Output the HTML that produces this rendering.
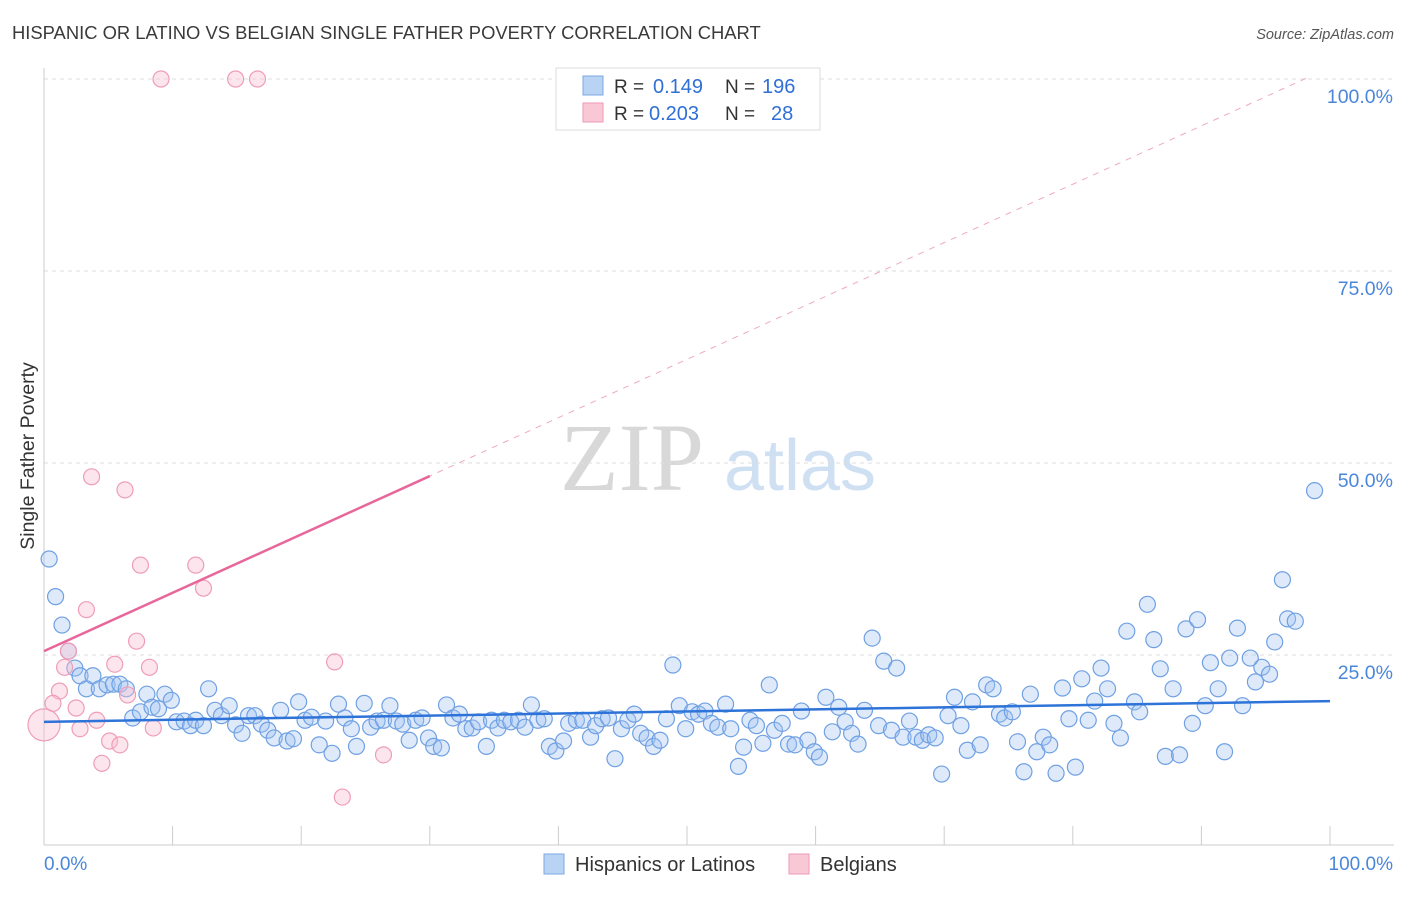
<!DOCTYPE html>
<html><head><meta charset="utf-8"><style>
body{margin:0;background:#fff;font-family:"Liberation Sans",sans-serif;}
svg text{font-family:"Liberation Sans",sans-serif;}
</style></head><body>
<svg width="1406" height="892" viewBox="0 0 1406 892" id="chart">
<text x="12" y="39" font-size="18.4" fill="#3a3a3a">HISPANIC OR LATINO VS BELGIAN SINGLE FATHER POVERTY CORRELATION CHART</text>
<text x="1394" y="39" font-size="14.5" fill="#555" text-anchor="end" font-style="italic">Source: ZipAtlas.com</text>
<text x="34" y="456" font-size="19.5" fill="#333" text-anchor="middle" transform="rotate(-90 34 456)">Single Father Poverty</text>
<g>
<text x="632" y="490" font-size="96" fill="#d8d8d8" text-anchor="middle" font-family="Liberation Serif,serif" style="font-family:'Liberation Serif',serif">ZIP</text>
<text x="800" y="490" font-size="72" fill="#cfe0f3" text-anchor="middle">atlas</text>
</g>
<g id="grid"></g>
<g id="marks"></g>
<g>
<rect x="556" y="68" width="264" height="62" fill="#fff" stroke="#ddd"/>
<rect x="583" y="76" width="20" height="19" fill="#b8d3f3" stroke="#7aa9e6"/>
<rect x="583" y="103" width="20" height="19" fill="#f9c8d7" stroke="#ee9ab5"/>
<text x="614" y="93" font-size="19" fill="#333">R = </text><text x="653" y="93" font-size="20" fill="#2f6fd6">0.149</text>
<text x="725" y="93" font-size="19" fill="#333">N = </text><text x="762" y="93" font-size="20" fill="#2f6fd6">196</text>
<text x="614" y="120" font-size="19" fill="#333">R = </text><text x="649" y="120" font-size="20" fill="#2f6fd6">0.203</text>
<text x="725" y="120" font-size="19" fill="#333">N = </text><text x="771" y="120" font-size="20" fill="#2f6fd6">28</text>
</g>
<g>
<rect x="544" y="854" width="20" height="20" fill="#b8d3f3" stroke="#7aa9e6"/>
<text x="575" y="871" font-size="20" fill="#333">Hispanics or Latinos</text>
<rect x="789" y="854" width="20" height="20" fill="#f9c8d7" stroke="#ee9ab5"/>
<text x="820" y="871" font-size="20" fill="#333">Belgians</text>
</g>
</svg>
<script>
const blueX=[0.4,0.9,1.4,1.9,2.4,2.8,3.3,3.8,4.3,4.9,5.4,5.9,6.4,6.9,7.5,8.0,8.4,8.9,9.4,9.9,10.3,10.9,11.4,11.8,12.4,12.8,13.3,13.8,14.4,14.9,15.4,15.9,16.4,16.9,17.4,17.9,18.4,18.9,19.4,19.8,20.3,20.8,21.4,21.9,22.4,22.9,23.4,23.9,24.3,24.9,25.4,25.9,26.4,26.9,27.4,27.9,28.4,28.9,29.4,29.9,30.3,30.9,31.3,31.8,32.3,32.8,33.3,33.8,34.4,34.8,35.3,35.8,36.3,36.9,37.4,37.9,38.4,38.9,39.3,39.8,40.4,40.8,41.4,41.9,42.5,42.9,43.4,43.9,44.4,44.9,45.4,45.9,46.4,46.9,47.4,47.9,48.4,48.9,49.4,49.9,50.4,50.9,51.4,51.9,52.4,53.0,53.4,54.0,54.4,54.9,55.4,55.9,56.4,56.8,57.4,57.9,58.4,58.9,59.4,59.9,60.3,60.8,61.3,61.8,62.3,62.8,63.3,63.8,64.4,64.9,65.3,65.9,66.3,66.8,67.3,67.8,68.3,68.8,69.3,69.8,70.3,70.8,71.3,71.8,72.2,72.8,73.3,73.8,74.3,74.7,75.3,75.7,76.2,76.7,77.2,77.7,78.2,78.7,79.2,79.7,80.2,80.7,81.2,81.7,82.2,82.7,83.2,83.7,84.2,84.8,85.2,85.8,86.3,86.8,87.2,87.8,88.3,88.8,89.3,89.7,90.3,90.7,91.3,91.8,92.2,92.8,93.2,93.8,94.2,94.7,95.3,95.7,96.3,96.7,97.3,98.8];
const blueY=[37.5,32.6,28.9,25.5,23.3,22.3,20.6,22.3,20.6,21.1,21.2,21.2,20.6,16.8,17.6,19.9,18.2,18.0,19.9,19.1,16.3,16.4,15.8,16.5,15.8,20.6,17.8,17.1,18.4,15.9,14.8,17.1,17.1,16.0,15.2,14.2,17.8,13.8,14.1,18.9,16.5,16.9,13.3,16.4,12.2,18.6,16.8,15.4,13.1,18.7,15.6,16.4,16.5,18.4,16.4,16.0,13.9,16.5,16.8,14.2,13.1,12.9,18.5,16.8,17.3,15.4,15.5,16.3,13.1,16.5,15.5,16.5,16.3,16.5,15.6,18.5,16.5,16.7,13.1,12.5,13.8,16.1,16.5,16.5,14.3,15.8,16.7,16.8,11.5,15.4,16.5,17.3,14.8,14.2,13.1,13.9,16.7,23.7,18.4,15.4,17.6,17.3,17.7,16.1,15.6,18.6,15.4,10.5,13.0,16.5,15.8,13.5,21.1,15.2,16.1,13.4,13.3,17.7,13.9,12.4,11.7,19.5,15.0,18.2,16.3,14.8,13.4,17.8,27.2,15.8,24.2,15.2,23.3,14.3,16.4,14.3,13.9,14.6,14.2,9.5,17.1,19.5,15.8,12.6,18.9,13.3,21.1,20.6,17.3,16.8,17.6,13.7,9.8,19.9,12.4,14.3,13.3,9.6,20.7,16.7,10.4,21.9,16.5,19.0,23.3,20.6,16.1,14.2,28.1,18.9,17.6,31.6,27.0,23.2,11.8,20.6,12.0,28.4,16.1,29.6,18.4,24.0,20.6,12.4,24.6,28.5,18.4,24.6,21.5,23.4,22.5,26.7,34.8,29.7,29.4,46.4];
const pinkX=[9.1,14.9,16.6,3.7,6.3,7.5,11.8,12.4,3.3,7.2,1.9,1.6,5.5,8.2,22.6,1.2,0.7,2.5,6.5,4.1,2.8,8.5,5.1,5.9,4.5,26.4,23.2,0.0];
const pinkY=[100,100,100,48.2,46.5,36.7,36.7,33.7,30.9,26.8,25.5,23.4,23.8,23.4,24.1,20.3,18.7,18.1,19.8,16.5,15.4,15.5,13.8,13.3,10.9,12.0,6.5,15.9];
const blueTrend=[16.3,19.0];
const pinkTrend=[25.5,48.3];
const yTicks=[25,50,75,100];
const yTickLabels=["25.0%","50.0%","75.0%","100.0%"];
const xTicks=[0,10,20,30,40,50,60,70,80,90,100];

const NS="http://www.w3.org/2000/svg";
const X0=44,X1=1330,Y0=847,Y1=79;
const sx=v=>X0+(X1-X0)*v/100;
const sy=v=>Y0-(Y0-Y1)*v/100;
function mk(tag,attrs,parent){const e=document.createElementNS(NS,tag);for(const k in attrs)e.setAttribute(k,attrs[k]);parent.appendChild(e);return e;}
const grid=document.getElementById('grid'),marks=document.getElementById('marks');
yTicks.forEach((t,i)=>{
  const l=mk('line',{x1:X0,x2:1394,y1:sy(t),y2:sy(t),stroke:'#dedede','stroke-dasharray':'4,4'},grid);
  
  
  const tx=mk('text',{x:1393,y:sy(t)+24,'font-size':19.5,fill:'#4a86d9','text-anchor':'end'},grid);
  tx.textContent=yTickLabels[i];
  
  
});
const ax=mk('line',{x1:X0,x2:X0,y1:68,y2:845,stroke:'#ccc'},grid);


const bx=mk('line',{x1:X0,x2:1394,y1:845,y2:845,stroke:'#ccc'},grid);


xTicks.forEach(t=>{
  const l=mk('line',{x1:sx(t),x2:sx(t),y1:826,y2:845,stroke:'#ccc'},grid);
  
  
});
const xl0=mk('text',{x:44,y:870,'font-size':19,fill:'#4a86d9'},grid);xl0.textContent='0.0%';


const xl1=mk('text',{x:1393,y:870,'font-size':19,fill:'#4a86d9','text-anchor':'end'},grid);xl1.textContent='100.0%';


const pd=mk('line',{x1:sx(0),y1:sy(pinkTrend[0]),x2:sx(98.5),y2:sy(pinkTrend[0]+(pinkTrend[1]-pinkTrend[0])/30*98.5),stroke:'#eeaac0','stroke-dasharray':'6,6','stroke-width':1},marks);


blueX.forEach((x,i)=>{
  const c=mk('circle',{cx:sx(x),cy:sy(blueY[i]),r:8,fill:'rgba(160,195,240,0.35)',stroke:'#6fa0e3','stroke-width':1.2},marks);
  
  
});
pinkX.forEach((x,i)=>{
  const c=mk('circle',{cx:sx(x),cy:sy(pinkY[i]),r:i==pinkX.length-1?16:8,fill:'rgba(248,190,208,0.4)',stroke:'#ef9db7','stroke-width':1.2},marks);
  
  
});
const bt=mk('line',{x1:sx(0),y1:sy(blueTrend[0]),x2:sx(100),y2:sy(blueTrend[1]),stroke:'#2e73d8','stroke-width':2.5},marks);


const pt=mk('line',{x1:sx(0),y1:sy(pinkTrend[0]),x2:sx(30),y2:sy(pinkTrend[1]),stroke:'#e8679a','stroke-width':2.5},marks);


</script>
</body></html>
